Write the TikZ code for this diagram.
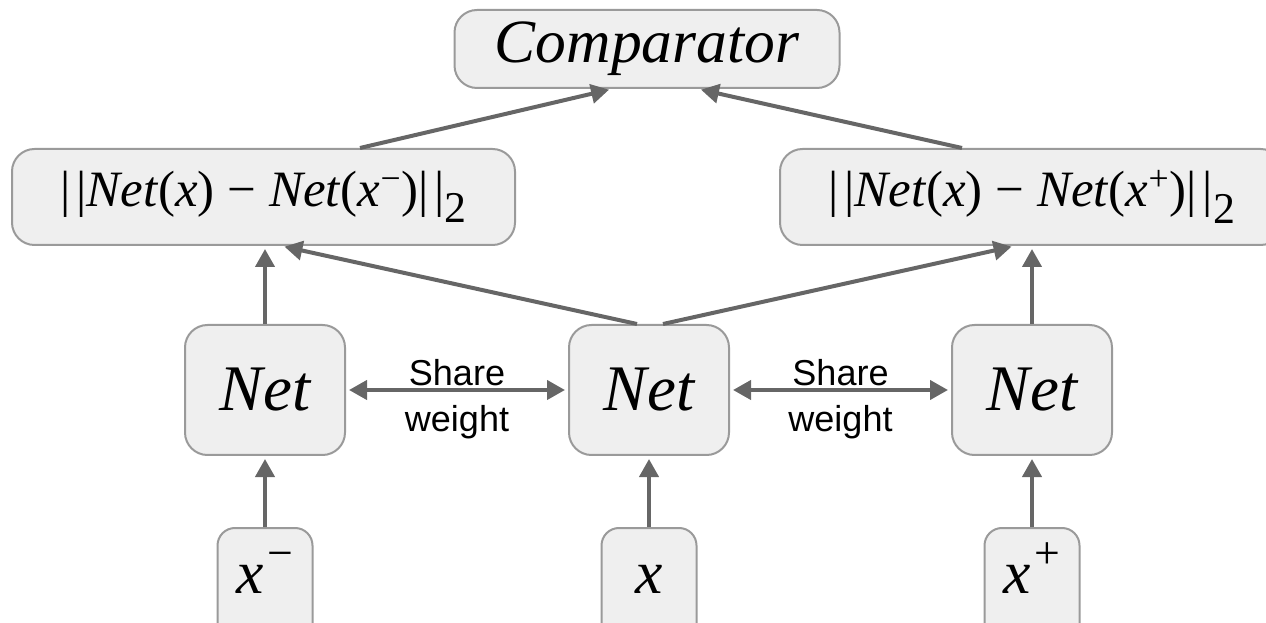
\documentclass[tikz,border=0pt]{standalone}
\usepackage{fontspec}
\setmainfont{Liberation Serif}
\setsansfont{Liberation Sans}
\usetikzlibrary{arrows.meta}
\definecolor{boxfill}{HTML}{EFEFEF}
\definecolor{boxline}{HTML}{9A9A9A}
\definecolor{arrowgray}{HTML}{666666}
\newcommand{\bars}{|\kern0.12em|}
\newcommand{\normsub}{\raisebox{-0.32em}{\fontsize{25}{25}\selectfont 2}}
\newcommand{\upsign}[1]{\kern0.05em\raisebox{0.4em}{\fontsize{26}{26}\selectfont\upshape #1}}
\begin{document}
\begin{tikzpicture}[
	block/.style={draw=boxline, fill=boxfill, line width=0.4mm, rounded corners=4.5mm, inner sep=0pt, font=\fontsize{35}{40}\selectfont\itshape},
	normbox/.style={block, minimum width=10.06cm, minimum height=1.92cm, font=\fontsize{29}{33}\selectfont},
	netbox/.style={block, minimum width=3.2cm, minimum height=2.6cm, font=\fontsize{37}{42}\selectfont\itshape},
	inbox/.style={block, minimum width=1.9cm, minimum height=2.4cm, rounded corners=3.5mm, text height=0.8cm, text depth=0.6cm},
	link/.style={draw=arrowgray, line width=0.8mm, -{Triangle[length=3.6mm,width=3.8mm]}, shorten >=0.6mm},
	twoway/.style={link, {Triangle[length=3.6mm,width=3.8mm]}-{Triangle[length=3.6mm,width=3.8mm]}, shorten <=0.6mm},
	share/.style={font=\sffamily\fontsize{20.5}{24}\selectfont, inner sep=0.5mm}]
				\useasboundingbox (0,0) rectangle (25.32,12.44);
				% boxes
				\node[block, minimum width=7.7cm, minimum height=1.56cm] (comp) at (12.94,11.46) {Comparator};
				\node[normbox] (lnorm) at (5.27,8.5) {\bars\textit{Net}(\textit{x}) − \textit{Net}(\textit{x}\textsuperscript{−})\bars\normsub};
				\node[normbox] (rnorm) at (20.63,8.5) {\bars\textit{Net}(\textit{x}) − \textit{Net}(\textit{x}\textsuperscript{+})\bars\normsub};
				\node[netbox] (lnet) at (5.3,4.64) {Net};
				\node[netbox] (cnet) at (12.98,4.64) {Net};
				\node[netbox] (rnet) at (20.64,4.64) {Net};
				\node[inbox] (xneg) at (5.3,0.68) {x\upsign{−}};
				\node[inbox] (xmid) at (12.98,0.68) {x};
				\node[inbox] (xpos) at (20.64,0.68) {x\upsign{+}};
				% inputs into the nets
				\draw[link] (xneg) -- (lnet);
				\draw[link] (xmid) -- (cnet);
				\draw[link] (xpos) -- (rnet);
				% nets into the distances
				\draw[link] (lnet.north) -- (lnet.north |- lnorm.south);
				\draw[link] (rnet.north) -- (rnet.north |- rnorm.south);
				\draw[link] ([xshift=-0.24cm]cnet.north) -- ([xshift=0.36cm]lnorm.south);
				\draw[link] ([xshift=0.28cm]cnet.north) -- ([xshift=-0.34cm]rnorm.south);
				% distances into the comparator
				\draw[link] ([xshift=1.93cm]lnorm.north) -- ([xshift=-0.7cm]comp.south);
				\draw[link] ([xshift=-1.39cm]rnorm.north) -- ([xshift=1.02cm]comp.south);
				% shared weights
				\draw[twoway] (lnet) -- (cnet) node[share, midway, above] (lshare) {Share} node[share, midway, below, yshift=-0.22cm] (lweight) {weight};
				\draw[twoway] (cnet) -- (rnet) node[share, midway, above] (rshare) {Share} node[share, midway, below, yshift=-0.22cm] (rweight) {weight};
\end{tikzpicture}
\end{document}
